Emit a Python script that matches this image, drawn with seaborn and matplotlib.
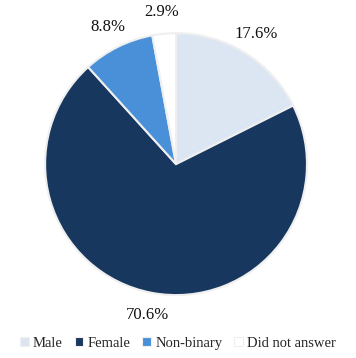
import matplotlib
matplotlib.use("Agg")
import matplotlib.pyplot as plt
import seaborn as sns
from matplotlib.patches import Patch
from matplotlib.font_manager import FontProperties, fontManager

categories = ["Male", "Female", "Non-binary", "Did not answer"]
values = [17.6, 70.6, 8.8, 2.9]
colors = ["#DCE6F2", "#17375E", "#4A90D9", "#FFFFFF"]

sns.set_theme(style="white")

serif_file = None
for name in ["Liberation Serif", "Noto Serif", "DejaVu Serif"]:
    cands = [f for f in fontManager.ttflist
             if f.name == name and f.style == "normal" and f.weight in (400, "normal", "regular")]
    if cands:
        serif_file = cands[0].fname
        break
if serif_file:
    fp = FontProperties(fname=serif_file, size=12)
    fpl = FontProperties(fname=serif_file, size=10.5)
else:
    fp = FontProperties(family="serif", size=12)
    fpl = FontProperties(family="serif", size=10.5)

fig = plt.figure(figsize=(3.56, 3.58), dpi=100)
ax = fig.add_axes([0.016, 0.066, 0.957, 0.951])
wedges, texts = ax.pie(
    values, colors=colors, startangle=90, counterclock=False,
    labels=[f"{v}%" for v in values], labeldistance=1.17,
    wedgeprops=dict(edgecolor="#EFEFEF", linewidth=1.5),
    textprops=dict(color="#111111"))
for t in texts:
    t.set_fontproperties(fp)
    t.set_horizontalalignment("center")
    t.set_verticalalignment("center")
ax.set_xlim(-1.3, 1.3)
ax.set_ylim(-1.3, 1.3)
ax.set_aspect("equal")

handles = [Patch(facecolor=c, edgecolor="#EFEFEF", linewidth=0.8) for c in colors]
fig.legend(handles, categories, loc="lower center", ncol=4, frameon=False,
           prop=fpl, handlelength=0.6, handleheight=0.6,
           handletextpad=0.3, columnspacing=0.8, borderpad=0.3,
           bbox_to_anchor=(0.5, -0.01))
fig.savefig("out.png", dpi=100, facecolor="white")
